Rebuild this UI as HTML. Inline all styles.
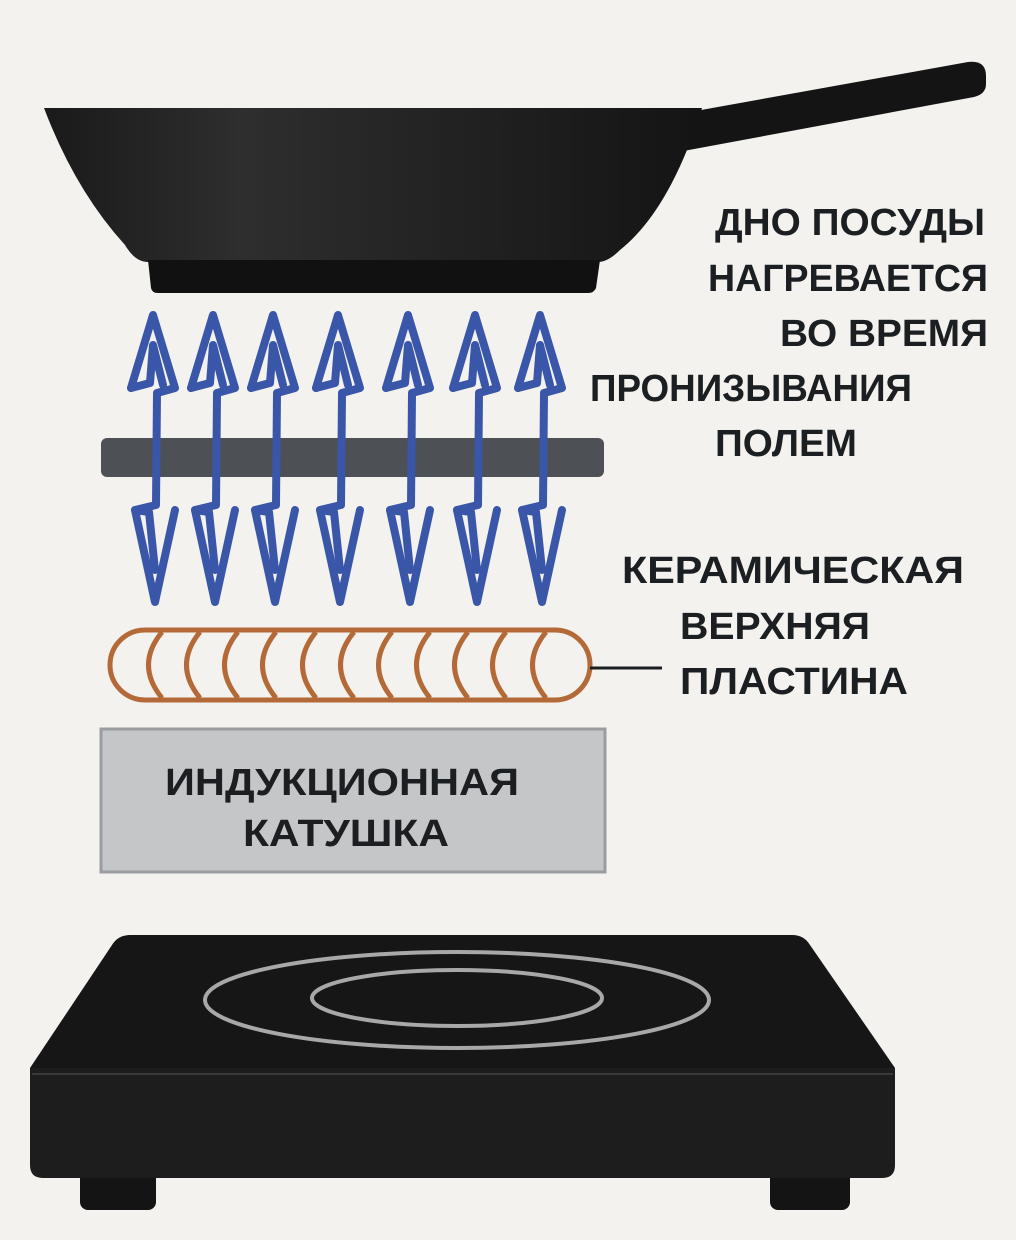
<!DOCTYPE html>
<html><head><meta charset="utf-8"><style>
html,body{margin:0;padding:0;background:#f4f2ee;}
svg{display:block}
text{font-family:"Liberation Sans",sans-serif;font-weight:bold;fill:#1c1f22;}
</style></head><body>
<svg width="1016" height="1240" viewBox="0 0 1016 1240" xmlns="http://www.w3.org/2000/svg">
<defs>
<linearGradient id="pg" x1="0" x2="1" y1="0" y2="0">
<stop offset="0" stop-color="#1a1a1a"/><stop offset="0.3" stop-color="#2e2e2e"/><stop offset="1" stop-color="#141414"/>
</linearGradient>
<g id="arr" fill="none" stroke="#3a56a8" stroke-width="8" stroke-linejoin="round" stroke-linecap="round">
<path d="M-22,388 L0,315 L22,388 L4,393 L3,505 L-18,510 L2,602 L22,510"/>
<path d="M-22,388 L-3,383 L0,345 L10,385"/>
<path d="M-18,510 L-4,512 L2,570"/>
</g>
</defs>
<rect width="1016" height="1240" fill="#f4f2ee"/>
<path d="M690,112 L968,62 Q986,60 986,76 L986,84 Q986,94 974,97 L678,152 Z" fill="#141414"/>
<path d="M44,108 L702,108 Q670,210 620,250 Q608,262 598,262 L148,262 Q135,262 125,245 Q75,190 44,108 Z" fill="url(#pg)"/>
<path d="M148,260 L600,260 L596,288 Q594,293 588,293 L158,293 Q152,293 151,288 Z" fill="#111"/>
<text x="985" y="235" font-size="38" text-anchor="end" textLength="270" lengthAdjust="spacingAndGlyphs">ДНО ПОСУДЫ</text>
<text x="988" y="291" font-size="38" text-anchor="end" textLength="280" lengthAdjust="spacingAndGlyphs">НАГРЕВАЕТСЯ</text>
<text x="988" y="346" font-size="38" text-anchor="end" textLength="208" lengthAdjust="spacingAndGlyphs">ВО ВРЕМЯ</text>
<text x="590" y="401" font-size="38" textLength="322" lengthAdjust="spacingAndGlyphs">ПРОНИЗЫВАНИЯ</text>
<text x="715" y="456" font-size="38" textLength="142" lengthAdjust="spacingAndGlyphs">ПОЛЕМ</text>
<rect x="101" y="438" width="503" height="39" rx="6" fill="#4d5054"/>
<use href="#arr" x="153"/><use href="#arr" x="213"/><use href="#arr" x="273"/><use href="#arr" x="338"/><use href="#arr" x="408"/><use href="#arr" x="475"/><use href="#arr" x="540"/>
<g fill="none" stroke="#b46a38" stroke-width="5">
<rect x="110" y="630" width="480" height="70" rx="35"/>
<path d="M162,632 Q135,665 162,698 M200,632 Q173,665 200,698 M238,632 Q211,665 238,698 M276,632 Q249,665 276,698 M316,632 Q289,665 316,698 M354,632 Q327,665 354,698 M392,632 Q365,665 392,698 M430,632 Q403,665 430,698 M468,632 Q441,665 468,698 M506,632 Q479,665 506,698 M546,632 Q519,665 546,698"/>
</g>
<line x1="590" y1="668" x2="662" y2="668" stroke="#1c1f22" stroke-width="3"/>
<text x="622" y="583" font-size="38" textLength="342" lengthAdjust="spacingAndGlyphs">КЕРАМИЧЕСКАЯ</text>
<text x="680" y="639" font-size="38" textLength="190" lengthAdjust="spacingAndGlyphs">ВЕРХНЯЯ</text>
<text x="680" y="694" font-size="38" textLength="228" lengthAdjust="spacingAndGlyphs">ПЛАСТИНА</text>
<rect x="101" y="729" width="504" height="143" fill="#c4c6c8" stroke="#9a9da0" stroke-width="3"/>
<text x="342" y="795" font-size="38" text-anchor="middle" textLength="354" lengthAdjust="spacingAndGlyphs">ИНДУКЦИОННАЯ</text>
<text x="346" y="846" font-size="38" text-anchor="middle" textLength="206" lengthAdjust="spacingAndGlyphs">КАТУШКА</text>
<rect x="80" y="1170" width="76" height="40" rx="8" fill="#141414"/>
<rect x="770" y="1170" width="80" height="40" rx="8" fill="#141414"/>
<path d="M30,1068 L112,945 Q118,935 130,935 L792,935 Q804,935 810,945 L895,1068 Z" fill="#161616"/>
<path d="M30,1068 L895,1068 L895,1165 Q895,1178 882,1178 L43,1178 Q30,1178 30,1165 Z" fill="#1d1d1d"/>
<line x1="32" y1="1074" x2="893" y2="1074" stroke="#3a3a3a" stroke-width="2"/>
<ellipse cx="457" cy="1000" rx="252" ry="48" fill="none" stroke="#a8a8a8" stroke-width="4"/>
<ellipse cx="457" cy="998" rx="145" ry="28" fill="none" stroke="#a8a8a8" stroke-width="4"/>
</svg>
</body></html>
